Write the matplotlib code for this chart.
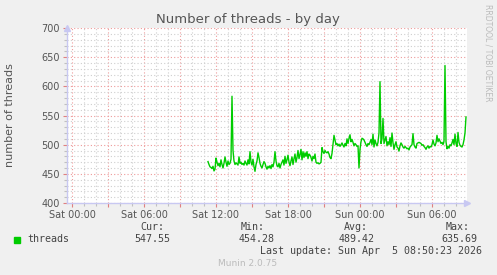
import pandas as pd
import matplotlib
matplotlib.use('Agg')
import matplotlib.pyplot as plt
import matplotlib.dates as mdates
from matplotlib.ticker import MultipleLocator, FuncFormatter
from matplotlib.patches import Rectangle

# 5-minute samples, Sat 11:20 -> Sun 08:50
threads = [
    471, 466, 462, 461, 459, 463, 455, 458, 477, 470,
    464, 468, 462, 474, 466, 460, 468, 479, 470, 463,
    472, 466, 468, 475, 583, 490, 472, 466, 469, 467,
    465, 479, 468, 470, 466, 468, 465, 472, 468, 465,
    474, 467, 488, 470, 465, 475, 462, 454.28, 466, 472,
    486, 478, 468, 463, 460, 466, 471, 468, 462, 458,
    463, 460, 464, 459, 466, 462, 470, 488, 472, 464,
    462, 468, 460, 466, 470, 474, 465, 480, 468, 474,
    482, 470, 464, 472, 479, 466, 476, 484, 470, 478,
    490, 476, 483, 492, 474, 488, 478, 486, 480, 488,
    476, 484, 482, 478, 472, 480, 476, 484, 470, 468,
    469, 467, 468, 470, 495, 488, 485, 490, 487, 486,
    488, 484, 478, 476, 485, 500, 516, 508, 500, 502,
    498, 501, 497, 500, 503, 499, 496, 502, 498, 510,
    502, 511, 517, 505, 509, 504, 498, 502, 500, 497,
    498, 460, 492, 505, 511, 510, 508, 504, 500, 497,
    502, 500, 504, 509, 500, 518, 496, 508, 502, 498,
    504, 520, 608, 502, 510, 545, 502, 508, 514, 498,
    505, 500, 512, 497, 520, 503, 492, 500, 505, 496,
    494, 489, 498, 503, 500, 496, 494, 497, 495, 493,
    494, 491, 496, 498, 500, 519, 500, 496, 494, 502,
    503, 504, 503, 502, 499, 500, 497, 495, 492, 496,
    498, 494, 497, 496, 500, 508, 501, 498, 503, 516,
    505, 510, 506, 502, 504, 500, 506, 635.69, 505, 493,
    497, 494, 500, 498, 503, 509, 500, 518, 502, 497,
    521, 504, 499, 497, 496, 500, 508, 520, 547.55,
]
times = pd.date_range('2026-04-04 11:20', periods=len(threads), freq='5min')

x_start = pd.Timestamp('2026-04-03 23:35')
x_end = pd.Timestamp('2026-04-05 08:55')

stat_names = ['Cur:', 'Min:', 'Avg:', 'Max:']
stat_values = ['547.55', '454.28', '489.42', '635.69']
last_update = 'Last update: Sun Apr  5 08:50:23 2026'

W, H = 497, 275
fig = plt.figure(figsize=(W / 100, H / 100), dpi=100, facecolor='#F0F0F0')
ax = fig.add_axes([67 / W, 1 - 203 / H, 400 / W, 175 / H], facecolor='white')

ax.plot(times, threads, color='#00CC00', lw=1.0)

ax.set_xlim(x_start, x_end)
ax.set_ylim(400, 700)

ax.yaxis.set_major_locator(MultipleLocator(50))
ax.yaxis.set_minor_locator(MultipleLocator(10))
ax.xaxis.set_major_locator(mdates.HourLocator(byhour=range(0, 24, 3)))
ax.xaxis.set_minor_locator(mdates.HourLocator())


def fmt_x(v, pos):
    d = mdates.num2date(v)
    return d.strftime('%a %H:%M') if d.hour % 6 == 0 else ''


ax.xaxis.set_major_formatter(FuncFormatter(fmt_x))

ax.grid(which='major', color='#EE9A9A', ls=(0, (1, 2)), lw=0.8)
ax.grid(which='minor', color='#CFCFCF', ls=(0, (1, 2)), lw=0.8)
ax.set_axisbelow(True)

for s in ['top', 'right']:
    ax.spines[s].set_visible(False)
for s in ['left', 'bottom']:
    ax.spines[s].set_color('#C8C8F2')
    ax.spines[s].set_linewidth(1.0)

ax.tick_params(which='major', length=3, width=0.8, color='#E08080',
               labelsize=7, labelcolor='#555555', pad=2)
ax.tick_params(which='minor', length=2, width=0.8, color='#C0C0C0')

# axis arrows
ax.plot([0], [1.0], marker='^', ms=4, color='#C8C8F2', transform=ax.transAxes,
        clip_on=False)
ax.plot([1.0], [0], marker='>', ms=4, color='#C8C8F2', transform=ax.transAxes,
        clip_on=False)

fig.text(248 / W, 1 - 19 / H, 'Number of threads - by day', ha='center',
         va='center', fontsize=9.5, color='#555555')
fig.text(10 / W, 1 - 115 / H, 'number of threads', rotation=90, ha='center',
         va='center', fontsize=8, color='#555555')
fig.text(488 / W, 1 - 53 / H, 'RRDTOOL / TOBI OETIKER', rotation=270,
         ha='center', va='center', fontsize=5.5, color='#BBBBBB')

mono = dict(family='DejaVu Sans Mono', fontsize=7.2, color='#444444', va='center')
fig.patches.append(Rectangle((14 / W, 1 - 242.5 / H), 6 / W, 6 / H,
                             transform=fig.transFigure, color='#00CC00'))
fig.text(27 / W, 1 - 239 / H, 'threads', **mono)
name_right = [164, 265, 368, 470]
value_right = [170, 275, 375, 477]
for nm, val, xn, xv in zip(stat_names, stat_values, name_right, value_right):
    fig.text(xn / W, 1 - 227 / H, nm, ha='right', **mono)
    fig.text(xv / W, 1 - 239 / H, val, ha='right', **mono)
fig.text(482 / W, 1 - 251 / H, last_update, ha='right', **mono)
fig.text(248 / W, 1 - 264 / H, 'Munin 2.0.75', ha='center', va='center',
         fontsize=6.5, color='#BBBBBB')

fig.savefig('out.png', dpi=100, facecolor=fig.get_facecolor())
